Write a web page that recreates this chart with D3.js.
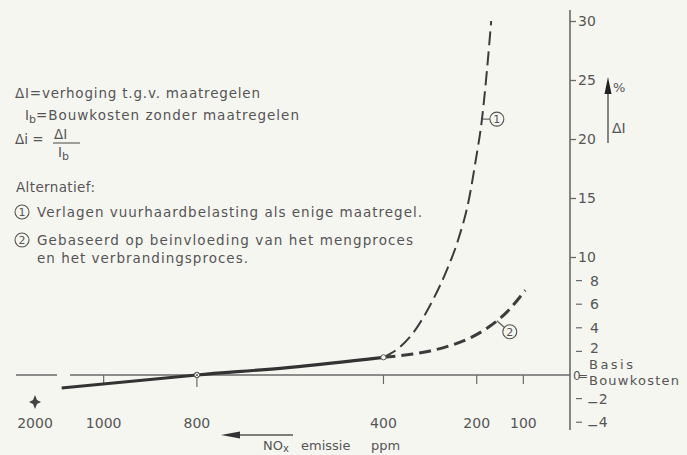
<!DOCTYPE html>
<html>
<head>
<meta charset="utf-8">
<script src="https://cdn.jsdelivr.net/npm/d3@7"></script>
<style>
  html, body { margin: 0; padding: 0; background: #f6f6f1; }
  svg { display: block; }
  text { font-family: "DejaVu Sans", sans-serif; fill: #555; }
</style>
</head>
<body>
<svg id="chart" width="687" height="455"></svg>
<script>
// NOx emission (ppm) on the horizontal axis, running right to left
const ppmTicks = [1000, 800, 400, 200, 100];
const ppmBreakTick = 2000;

// relative increase of building cost ΔI/Ib in %
const pctMajorTicks = [10, 15, 20, 25, 30];
const pctMinorTicks = [8, 6, 4, 2, -2, -4];

// base line (no measures) up to 400 ppm
const basePpm = [1090, 800, 600, 400];
const baseVal = [-1.1, 0, 0.65, 1.5];

// alternative 1: lowering furnace load only
const alt1Ppm = [400, 367, 332, 294, 264, 240, 217, 202, 189, 178, 169];
const alt1Val = [1.5, 2.29, 3.81, 6.36, 8.9, 11.44, 14.83, 18.22, 21.61, 25.85, 30.0];

// alternative 2: influencing mixing and combustion process
const alt2Ppm = [400, 337, 300, 264, 214, 172, 135, 96];
const alt2Val = [1.5, 1.78, 2.04, 2.41, 3.14, 4.13, 5.35, 7.18];

const svg = d3.select("#chart");
const ink = "#3c3c3c";
const axisInk = "#6a6a6a";

// broken horizontal scale: 2000 sits left of the break
const x = d3.scaleLinear().domain([2000, 1100, 0]).range([35, 57, 570]);
const y = d3.scaleLinear().domain([0, 30]).range([375, 21]);

const x0 = x(0), y0 = y(0);

// horizontal axis (two pieces around the break)
svg.append("line").attr("x1", 16).attr("x2", 57).attr("y1", y0).attr("y2", y0)
  .attr("stroke", axisInk).attr("stroke-width", 1.4);
svg.append("line").attr("x1", 70).attr("x2", x0).attr("y1", y0).attr("y2", y0)
  .attr("stroke", axisInk).attr("stroke-width", 1.4);

// vertical axis
svg.append("line").attr("x1", x0).attr("x2", x0).attr("y1", 10).attr("y2", 430)
  .attr("stroke", axisInk).attr("stroke-width", 1.6);

// bottom ticks and labels
ppmTicks.forEach(d => {
  svg.append("line").attr("x1", x(d)).attr("x2", x(d))
    .attr("y1", d === 800 ? y0 - 2 : y0).attr("y2", y0 + (d === 800 ? 12 : 9))
    .attr("stroke", axisInk).attr("stroke-width", 1.2);
});
[ppmBreakTick].concat(ppmTicks).forEach(d => {
  svg.append("text").attr("x", x(d)).attr("y", 428)
    .attr("text-anchor", "middle").attr("font-size", 14).text(d);
});

// star under 2000
const sx = x(ppmBreakTick), sy = 402;
svg.append("path")
  .attr("d", `M${sx},${sy - 7} L${sx + 2},${sy - 2} L${sx + 6},${sy} L${sx + 2},${sy + 2} L${sx},${sy + 7} L${sx - 2},${sy + 2} L${sx - 6},${sy} L${sx - 2},${sy - 2} Z`)
  .attr("fill", "#444");

// right axis: major ticks
const yAxis = d3.axisRight(y).tickValues(pctMajorTicks).tickSize(6).tickPadding(2)
  .tickFormat(d3.format("d"));
const gy = svg.append("g").attr("transform", `translate(${x0},0)`).call(yAxis);
gy.select(".domain").remove();
gy.selectAll("line").attr("stroke", axisInk).attr("stroke-width", 1.3);
gy.selectAll("text").attr("font-size", 14).attr("fill", "#555")
  .style("font-family", "DejaVu Sans, sans-serif");

// right axis: minor ticks (detached from the axis)
pctMinorTicks.forEach(d => {
  svg.append("line").attr("x1", x0 + 6).attr("x2", x0 + 12)
    .attr("y1", y(d)).attr("y2", y(d)).attr("stroke", axisInk).attr("stroke-width", 1.2);
  const t = svg.append("text").attr("x", x0 + (d < 0 ? 17 : 20))
    .attr("y", y(d) + (d === 2 ? 2 : 5)).attr("font-size", 14);
  if (d < 0) {
    t.append("tspan").attr("dy", 3).text("\u2212");
    t.append("tspan").attr("dy", -3).text(Math.abs(d));
  } else {
    t.text(d);
  }
});

// zero label: "0=" Basis / Bouwkosten, kept in one text block
const zl = svg.append("text").attr("font-size", 13);
zl.append("tspan").attr("x", x0 + 3).attr("y", y0 + 5).attr("font-size", 12)
  .attr("textLength", 15).text("0=");
zl.append("tspan").attr("x", x0 + 19).attr("y", y0 - 6).attr("textLength", 44).text("Basis");
zl.append("tspan").attr("x", x0 + 19).attr("y", y0 + 10).attr("textLength", 90).text("Bouwkosten");

// "%" arrow with ΔI
svg.append("line").attr("x1", 608).attr("x2", 608).attr("y1", 143).attr("y2", 90)
  .attr("stroke", "#555").attr("stroke-width", 1.4);
svg.append("path").attr("d", "M608,77 L611.5,94 L604.5,94 Z").attr("fill", "#222");
svg.append("text").attr("x", 613).attr("y", 92).attr("font-size", 13).text("%");
svg.append("text").attr("x", 612).attr("y", 133).attr("font-size", 14).text("\u0394I");

// curves
const line = d3.line().x(d => x(d[0])).y(d => y(d[1])).curve(d3.curveMonotoneX);
const zip = (a, b) => a.map((v, i) => [v, b[i]]);

svg.append("path").datum(zip(basePpm, baseVal)).attr("d", line)
  .attr("fill", "none").attr("stroke", "#333").attr("stroke-width", 3.2);

svg.append("path").datum(zip(alt1Ppm, alt1Val)).attr("d", line)
  .attr("fill", "none").attr("stroke", ink).attr("stroke-width", 2)
  .attr("stroke-dasharray", "14 6");

svg.append("path").datum(zip(alt2Ppm, alt2Val)).attr("d", line)
  .attr("fill", "none").attr("stroke", ink).attr("stroke-width", 3)
  .attr("stroke-dasharray", "12 6");

// point markers at 800 and 400 ppm
const m800 = [x(800), y(0)];
svg.append("circle").attr("cx", m800[0]).attr("cy", m800[1]).attr("r", 2.8)
  .attr("fill", "#f6f6f1").attr("stroke", "#555").attr("stroke-width", 1);
svg.append("path").attr("d", `M${m800[0] - 2},${m800[1] - 2} L${m800[0] + 2},${m800[1] + 2} M${m800[0] + 2},${m800[1] - 2} L${m800[0] - 2},${m800[1] + 2}`)
  .attr("stroke", "#555").attr("stroke-width", 0.8);
svg.append("circle").attr("cx", x(400)).attr("cy", y(1.5)).attr("r", 2.6)
  .attr("fill", "#f6f6f1").attr("stroke", "#555").attr("stroke-width", 1);

// circled curve labels with leaders
function circled(cx, cy, label) {
  svg.append("circle").attr("cx", cx).attr("cy", cy).attr("r", 7)
    .attr("fill", "none").attr("stroke", "#555").attr("stroke-width", 1.1);
  svg.append("text").attr("x", cx).attr("y", cy + 4).attr("text-anchor", "middle")
    .attr("font-size", 11).text(label);
}
const l1 = [x(189), y(21.6)];
svg.append("line").attr("x1", l1[0] + 1).attr("x2", l1[0] + 8).attr("y1", l1[1] - 1).attr("y2", l1[1] - 1)
  .attr("stroke", "#555").attr("stroke-width", 1.1);
circled(l1[0] + 15, l1[1] - 1, "1");

const l2 = [x(157), y(4.6)];
svg.append("line").attr("x1", l2[0]).attr("x2", l2[0] + 8).attr("y1", l2[1]).attr("y2", l2[1] + 7)
  .attr("stroke", "#555").attr("stroke-width", 1.1);
circled(l2[0] + 13, l2[1] + 11, "2");

// explanatory text block
svg.append("text").attr("x", 15).attr("y", 98).attr("font-size", 13.5).attr("textLength", 245)
  .text("\u0394I=verhoging t.g.v. maatregelen");

const t2 = svg.append("text").attr("x", 25).attr("y", 120).attr("font-size", 13.5);
t2.append("tspan").text("I");
t2.append("tspan").attr("dy", 3).attr("font-size", 11).text("b");
t2.append("tspan").attr("dy", -3).attr("textLength", 263).text("=Bouwkosten  zonder maatregelen");

svg.append("text").attr("x", 15).attr("y", 144).attr("font-size", 13.5).text("\u0394i =");
svg.append("text").attr("x", 54).attr("y", 139).attr("font-size", 13.5).text("\u0394I");
svg.append("line").attr("x1", 53).attr("x2", 80).attr("y1", 143).attr("y2", 143)
  .attr("stroke", "#555").attr("stroke-width", 1.1);
const td = svg.append("text").attr("x", 58).attr("y", 157).attr("font-size", 13.5);
td.append("tspan").text("I");
td.append("tspan").attr("dy", 3).attr("font-size", 11).text("b");

svg.append("text").attr("x", 16).attr("y", 192).attr("font-size", 13.5).attr("textLength", 79)
  .text("Alternatief:");

circled(22, 212, "1");
svg.append("text").attr("x", 37).attr("y", 217).attr("font-size", 13.5).attr("textLength", 385)
  .text("Verlagen vuurhaardbelasting als enige maatregel.");
circled(22, 240, "2");
svg.append("text").attr("x", 37).attr("y", 245).attr("font-size", 13.5).attr("textLength", 376)
  .text("Gebaseerd op beinvloeding van het mengproces");
svg.append("text").attr("x", 37).attr("y", 263).attr("font-size", 13.5).attr("textLength", 211)
  .text("en het verbrandingsproces.");

// horizontal-axis caption with arrow
svg.append("line").attr("x1", 234).attr("x2", 293).attr("y1", 435).attr("y2", 435)
  .attr("stroke", "#555").attr("stroke-width", 1.3);
svg.append("path").attr("d", "M221,435 L240,431.5 L240,438.5 Z").attr("fill", "#333");
const cap = svg.append("text").attr("x", 263).attr("y", 450).attr("font-size", 13);
cap.append("tspan").text("NO");
cap.append("tspan").attr("dy", 2).attr("font-size", 10).text("x");
cap.append("tspan").attr("dy", -2).attr("x", 301).text("emissie");
cap.append("tspan").attr("x", 371).text("ppm");
</script>
</body>
</html>
